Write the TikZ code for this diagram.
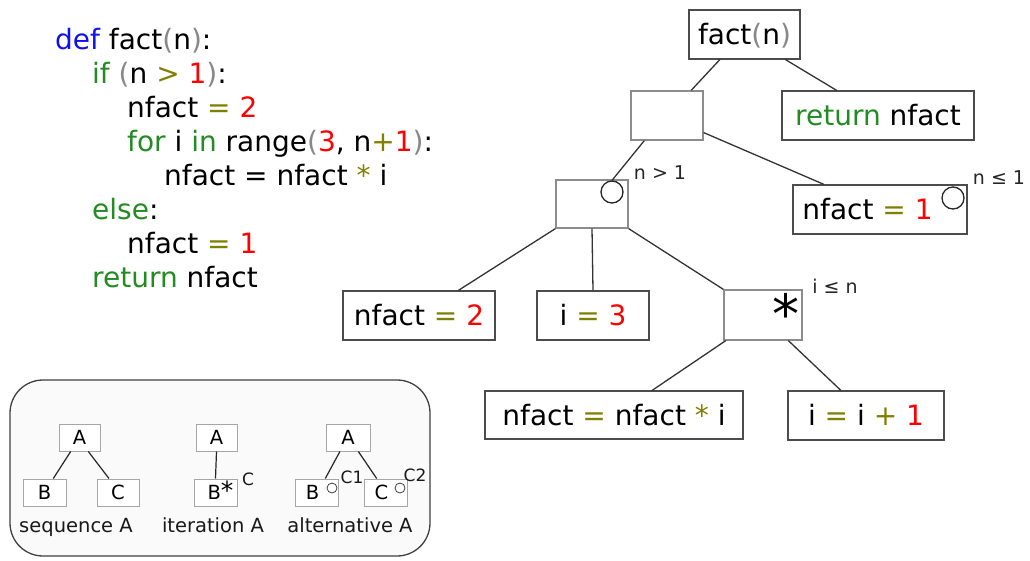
\documentclass[tikz,border=0pt]{standalone}
\usepackage{fontspec}
\setmainfont{DejaVu Sans}
\usetikzlibrary{calc}

\definecolor{kwgreen}{HTML}{228B22}
\definecolor{defblue}{HTML}{1010F0}
\definecolor{opolive}{HTML}{808000}
\definecolor{numred}{HTML}{FF0000}
\definecolor{pargray}{HTML}{888888}
\definecolor{legendbg}{HTML}{FAFAFA}

\newcommand{\cKw}[1]{\textcolor{kwgreen}{#1}}
\newcommand{\cDef}[1]{\textcolor{defblue}{#1}}
\newcommand{\cOp}[1]{\textcolor{opolive}{#1}}
\newcommand{\cNum}[1]{\textcolor{numred}{#1}}
\newcommand{\cPar}[1]{\textcolor{pargray}{#1}}

\tikzset{
  big/.style={font=\fontsize{28}{34}\selectfont},
  codeline/.style={big, anchor=base west, inner sep=0pt},
  tbox/.style={big, draw=black!70, line width=1.2pt, fill=white, minimum height=49pt,
               inner sep=0pt, text height=20.4pt, text depth=0pt},
  ebox/.style={draw=black!45, line width=1.2pt, fill=white, minimum height=49pt, inner sep=0pt},
  link/.style={draw=black!80, line width=1.3pt},
  cond/.style={font=\fontsize{19}{22}\selectfont, text=black!85, inner sep=0pt},
  altmark/.style={circle, draw=black!85, line width=1.3pt, minimum size=22pt, inner sep=0pt},
  sbox/.style={draw=black!35, line width=1pt, fill=white, minimum width=42pt, minimum height=27pt,
               inner sep=0pt, font=\fontsize{19.5}{22}\selectfont, text height=14.2pt, text depth=0pt},
  slink/.style={draw=black!85, line width=1.2pt},
  smark/.style={circle, draw=black!75, line width=0.8pt, minimum size=10pt, inner sep=0pt},
  slabel/.style={font=\fontsize{19.5}{22}\selectfont, text=black!90, inner sep=0pt, anchor=base},
  stag/.style={font=\fontsize{17}{20}\selectfont, text=black!90, inner sep=0pt},
}

\begin{document}
\begin{tikzpicture}[x=1pt, y=-1pt]
\useasboundingbox (0,0) rectangle (1030,560);

% ---------- source code ----------
\node[codeline] (l1) at (55,49)  {\cDef{def} fact\cPar{(}n\cPar{)}:};
\node[codeline] (l2) at (92,83)  {\cKw{if} \cPar{(}n \cOp{>} \cNum{1}\cPar{)}:};
\node[codeline] (l3) at (127,117) {nfact \cOp{=} \cNum{2}};
\node[codeline] (l4) at (127,151) {\cKw{for} i \cKw{in} range\cPar{(}\cNum{3}, n\cOp{+}\cNum{1}\cPar{)}:};
\node[codeline] (l5) at (164,185) {nfact = nfact \cOp{*} i};
\node[codeline] (l6) at (92,219) {\cKw{else}:};
\node[codeline] (l7) at (127,253) {nfact \cOp{=} \cNum{1}};
\node[codeline] (l8) at (92,287) {\cKw{return} nfact};

% ---------- structure tree ----------
\node[tbox, minimum width=111pt] (fact) at (744.5,34.5) {fact\cPar{(}n\cPar{)}};
\node[ebox, minimum width=72pt]  (seq)  at (667,115.5) {};
\node[tbox, minimum width=192pt] (ret)  at (878,115.5) {\cKw{return} nfact};
\node[ebox, minimum width=72pt, minimum height=48pt] (thn) at (592,204) {};
\node[tbox, minimum width=174pt] (els)  at (880,209.5) {nfact \cOp{=} \cNum{1}\hspace*{25pt}};
\node[tbox, minimum width=152pt] (nfa)  at (419,315.5) {nfact \cOp{=} \cNum{2}};
\node[tbox, minimum width=112pt] (ini)  at (593,315.5) {i \cOp{=} \cNum{3}};
\node[ebox, minimum width=78pt, minimum height=50pt] (loop) at (763,315) {};
\node[tbox, minimum width=258pt, minimum height=48pt] (mul) at (614,415) {nfact \cOp{=} nfact \cOp{*} i};
\node[tbox, minimum width=156pt] (inc)  at (866,415.5) {i \cOp{=} i \cOp{+} \cNum{1}};

% markers and conditions
\node[altmark] (thnmark) at (612,192) {};
\node[altmark] (elsmark) at (953,198) {};
\node[inner sep=0pt, font=\fontsize{54}{54}\selectfont] (loopmark) at (786,313) {*};
\node[cond] (cthn)  at (660,173) {n > 1};
\node[cond] (cels)  at (999,178) {n ≤ 1};
\node[cond] (cloop) at (835,286) {i ≤ n};

% connectors
\draw[link] ($(fact.south west)!0.28!(fact.south east)$) -- ($(seq.north west)!0.83!(seq.north east)$);
\draw[link] ($(fact.south west)!0.865!(fact.south east)$) -- ($(ret.north west)!0.286!(ret.north east)$);
\draw[link] ($(seq.south west)!0.19!(seq.south east)$) -- (thnmark.north);
\draw[link] ($(seq.north east)!0.84!(seq.south east)$) -- ($(els.north west)!0.18!(els.north east)$);
\draw[link] (thn.south west) -- ($(nfa.north west)!0.757!(nfa.north east)$);
\draw[link] (thn.south) -- (ini.north);
\draw[link] (thn.south east) -- (loop.north west);
\draw[link] ($(loop.south west)!0.03!(loop.south east)$) -- ($(mul.north west)!0.647!(mul.north east)$);
\draw[link] ($(loop.south west)!0.82!(loop.south east)$) -- ($(inc.north west)!0.34!(inc.north east)$);

% ---------- legend ----------
\node[draw=black!75, line width=1.3pt, fill=legendbg, rounded corners=33pt,
      minimum width=420pt, minimum height=176pt, inner sep=0pt] (legend) at (220,468) {};

% sequence
\node[sbox, minimum width=41pt] (sa) at (79.5,437.5) {A};
\node[sbox, minimum width=43pt] (sb) at (44.5,492.5) {B};
\node[sbox, minimum width=42pt] (sc) at (118,492.5) {C};
\draw[slink] ($(sa.south west)!0.29!(sa.south east)$) -- ($(sb.north west)!0.7!(sb.north east)$);
\draw[slink] ($(sa.south west)!0.71!(sa.south east)$) -- ($(sc.north west)!0.29!(sc.north east)$);
\node[slabel] (seqlbl) at (76,532) {sequence A};

% iteration
\node[sbox, minimum width=41pt] (ia) at (216.5,437.5) {A};
\node[sbox, minimum width=43pt] (ib) at (215.5,492.5) {\hspace*{10pt}B{\fontsize{25}{25}\selectfont*}};
\draw[slink] (ia.south) -- (ib.north);
\node[stag] (ic) at (248,479) {C};
\node[slabel] (iterlbl) at (213,532) {iteration A};

% alternative
\node[sbox, minimum width=44pt] (aa) at (348,437.5) {A};
\node[sbox, minimum width=43pt] (ab) at (316.5,492.5) {B\hspace*{8pt}};
\node[sbox, minimum width=43pt] (ac) at (385.5,492.5) {C\hspace*{8pt}};
\node[smark] (abm) at (332,488) {};
\node[smark] (acm) at (400,488) {};
\node[stag] (ab1) at (352,477) {C1};
\node[stag] (ac2) at (415,475) {C2};
\draw[slink] ($(aa.south west)!0.32!(aa.south east)$) -- ($(ab.north west)!0.7!(ab.north east)$);
\draw[slink] ($(aa.south west)!0.73!(aa.south east)$) -- ($(ac.north west)!0.3!(ac.north east)$);
\node[slabel] (altlbl) at (350,532) {alternative A};

\end{tikzpicture}
\end{document}
